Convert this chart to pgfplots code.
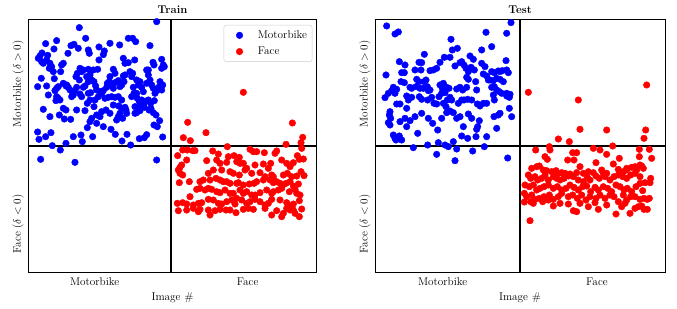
\documentclass[border=0pt]{standalone}
\usepackage{pgfplots}
\pgfplotsset{compat=1.18}
\begin{document}
\begin{tikzpicture}[font=\fontsize{11.25}{13.5}\selectfont]
\path[use as bounding box] (0,0) rectangle (677pt,308pt);
\pgfplotsset{
  panel/.style={
    scale only axis, height=253.4pt,
    ymin=-380, ymax=380,
    y filter/.expression={438-y},
    ytick=\empty,
    major tick length=0pt,
    axis line style={line width=0.9pt},
    xticklabel style={anchor=base, yshift=-12.8pt},
    title style={anchor=base, font=\fontsize{11.25}{13.5}\selectfont\bfseries},
    xlabel={Image \#},
    xlabel style={at={(0.5,0)}, anchor=base, yshift=-27.8pt},
    clip=false,
  },
  mb/.style={only marks, mark=*, mark size=3.3pt, mark options={draw=blue, fill=blue}},
  fc/.style={only marks, mark=*, mark size=3.3pt, mark options={draw=red, fill=red}},
}
% ---------------- Train ----------------
\begin{axis}[panel, at={(28.3pt,35.3pt)}, anchor=south west, width=288.4pt,
  xmin=85, xmax=950, xtick={284,743}, xticklabels={Motorbike, Face},
  title={Train},
  legend image code/.code={\path[draw=none, fill=none] (0pt,0pt) -- (29pt,0pt); \path[#1, draw=none] plot coordinates {(12.7pt,0pt)};},
  legend style={at={(1,1)}, anchor=north east, xshift=-4.4pt, yshift=-5.7pt,
    draw=black!20, rounded corners=2.5pt, font=\fontsize{11.25}{13.5}\selectfont,
    row sep=3pt, inner xsep=3pt, inner ysep=3.5pt},
  legend cell align=left]
\addplot[mb] coordinates {
(238,83) (470,65) (385,115) (398,115) (407,125) (257,115) (170,122) (137,131) (213,137) (222,133)
(330,130) (359,135) (450,137) (297,141) (235,145) (162,147) (265,150) (268,160) (313,153) (310,164)
(126,159) (120,168) (115,175) (125,185) (130,190) (140,180) (204,160) (143,166) (370,175) (375,190)
(385,188) (404,180) (485,178) (490,195) (485,205) (493,200) (459,187) (462,195) (445,210) (297,180)
(150,190) (155,200) (160,215) (148,205) (185,195) (190,190) (182,215) (240,205) (245,215) (232,220)
(228,230) (238,240) (250,210) (265,208) (280,210) (293,208) (270,225) (275,240) (340,208) (330,230)
(345,220) (370,228) (375,225) (390,215) (398,220) (395,230) (440,210) (445,225) (124,235) (163,236)
(113,260) (140,258) (170,265) (165,272) (175,260) (190,250) (198,258) (205,262) (210,270) (215,290)
(218,278) (220,285) (200,255) (260,230) (265,245) (255,258) (250,262) (282,245) (287,258) (290,270)
(300,275) (295,290) (305,280) (310,272) (320,262) (322,250) (328,245) (335,255) (340,265) (345,248)
(355,242) (360,260) (365,255) (372,245) (315,295) (325,292) (335,290) (345,292) (355,290) (365,300)
(225,272) (230,262) (240,282) (245,290) (265,280) (272,278) (145,285) (170,290) (175,295) (180,300)
(168,302) (400,262) (410,240) (415,255) (420,245) (425,262) (430,275) (440,250) (450,240) (455,255)
(460,265) (465,280) (470,272) (476,262) (488,255) (480,245) (485,270) (410,280) (412,295) (418,305)
(425,300) (432,310) (440,303) (445,300) (452,310) (463,302) (395,290) (402,280) (130,328) (150,350)
(178,345) (190,325) (198,330) (212,358) (193,357) (230,330) (255,332) (262,310) (270,300) (282,320)
(285,300) (275,355) (290,345) (300,350) (305,335) (318,330) (340,315) (330,340) (356,318) (365,325)
(375,322) (380,340) (378,330) (360,340) (355,350) (350,360) (368,355) (405,320) (418,320) (425,315)
(433,322) (447,330) (453,326) (460,338) (468,345) (405,340) (410,338) (420,332) (113,396) (117,418)
(137,410) (153,398) (157,437) (181,450) (220,410) (243,405) (247,425) (262,383) (278,410) (290,370)
(310,380) (333,388) (346,403) (366,423) (381,403) (392,435) (418,416) (433,413) (440,404) (462,375)
(472,380) (479,362) (488,411) (270,365) (198,430) (122,478) (225,487) (470,480)
};
\addlegendentry{Motorbike}
\addplot[fc] coordinates {
(730,277) (877,369) (563,367) (618,398) (550,413) (571,422) (908,412) (903,428) (858,433) (682,440)
(533,467) (548,450) (562,450) (578,452) (585,452) (638,453) (655,462) (685,470) (702,467) (718,472)
(750,448) (760,455) (770,455) (793,458) (825,460) (830,453) (892,467) (910,477) (905,445)
(545,495) (540,502) (535,510) (560,480) (620,482) (650,480) (660,490) (680,487) (710,485) (720,490)
(730,490) (740,505) (765,495) (790,492) (805,505) (812,490) (845,480) (860,490) (870,500) (880,488) (898,478)
(540,520) (548,525) (625,520) (640,510) (665,510) (690,515) (700,520) (718,525) (735,510) (755,520)
(780,518) (795,530) (815,525) (820,530) (850,525) (862,520) (875,530) (890,528) (903,515) (912,527)
(538,548) (568,545) (600,545) (610,540) (630,540) (648,535) (660,540) (670,545) (680,545) (690,550)
(710,550) (715,548) (730,555) (748,552) (762,550) (770,545) (790,540) (810,540) (820,548) (830,545)
(840,550) (848,555) (858,550) (870,545) (880,558) (895,552)
(590,568) (600,565) (615,570) (625,565) (635,568) (650,575) (660,578) (675,570) (690,580) (700,580)
(720,570) (730,580) (740,575) (755,585) (765,585) (780,578) (800,570) (815,580) (820,575) (835,570)
(845,565) (868,575) (885,568) (890,580) (900,585)
(532,610) (548,608) (560,612) (570,590) (580,615) (595,610) (605,608) (625,598) (640,600) (655,610)
(665,612) (680,605) (695,600) (705,612) (710,595) (725,600) (740,610) (750,605) (765,598) (780,605)
(795,615) (805,610) (815,598) (840,600) (860,608) (870,618) (880,612) (898,602)
(535,632) (560,630) (580,625) (595,635) (600,628) (625,630) (630,645) (645,632) (660,628) (678,630)
(690,630) (708,638) (730,628) (745,625) (760,628) (795,625) (815,645) (830,632) (845,650) (850,640)
(860,625) (880,630) (885,640) (898,650) (905,627) (870,630)
};
\addlegendentry{Face}
\draw[line width=1.2pt] (rel axis cs:0,0.5) -- (rel axis cs:1,0.5);
\draw[line width=1.2pt] (axis cs:513,-380) -- (axis cs:513,380);
\end{axis}
% ---------------- Test ----------------
\begin{axis}[panel, at={(375pt,35.3pt)}, anchor=south west, width=290pt,
  xmin=105, xmax=975, xtick={308,771}, xticklabels={Motorbike, Face},
  title={Test}]
\addplot[mb] coordinates {
(140,78) (165,102) (175,96) (513,68) (438,97) (500,100) (333,118)
(455,140) (425,150) (337,150) (352,145) (498,182) (253,163) (390,168) (400,178)
(178,185) (195,195) (237,187) (245,188) (300,187) (313,172) (330,172) (345,198) (360,188) (365,185)
(372,195) (378,205) (385,215) (393,202) (403,210) (380,232) (385,238)
(425,190) (435,200) (455,215) (463,218) (475,213) (480,215) (487,212) (500,210) (505,218)
(138,225) (185,218) (193,218) (225,210) (243,210) (270,212) (280,210) (290,205)
(430,222) (440,228) (450,240) (460,242) (470,235) (480,238) (490,245)
(183,245) (193,248) (160,262) (155,272) (145,280) (135,293) (165,280) (170,268)
(210,262) (215,265) (230,238) (237,245) (228,260) (240,265) (250,265) (252,245) (258,240) (262,260)
(265,272) (270,270) (300,255) (310,250) (307,265) (320,262) (327,265) (315,278) (305,280) (297,290)
(350,267) (360,262) (368,270) (380,262) (407,245) (410,270) (445,240) (455,262) (463,260) (470,270)
(478,275) (485,280) (500,280) (510,283) (508,292) (500,288)
(200,288) (205,300) (215,292) (238,290) (245,298) (263,300) (275,292) (282,310) (290,312) (310,310)
(318,320) (322,300) (330,292) (335,300) (355,310) (365,300) (372,300) (383,298) (395,300) (412,312)
(420,318) (430,310) (440,310) (460,285) (463,300)
(150,335) (148,345) (152,355) (150,375) (145,368) (170,312) (180,312) (200,325)
(180,365) (195,355) (210,362) (225,350) (245,340) (265,355) (278,370) (293,390) (305,355) (320,338)
(330,333) (340,338) (350,355) (360,350) (370,380) (385,342) (395,355) (410,388) (413,380) (418,362)
(440,410) (462,350) (475,345) (480,340) (470,385) (508,325) (515,350)
(165,415) (172,412) (178,408) (160,405) (168,420) (185,420) (200,380) (233,400) (365,408) (383,415) (408,410)
(220,443) (263,435) (295,428) (290,463) (315,435) (325,440) (340,425) (345,482) (350,447) (398,453)
(433,440) (503,474)
};
\addplot[fc] coordinates {
(565,277) (715,300) (920,255) (720,388) (800,390) (917,390) (912,415) (655,417) (688,425)
(628,440) (630,450) (587,450) (818,438) (760,445) (780,450) (800,463) (898,448) (928,448) (698,458)
(710,458) (615,470) (622,478) (683,480) (702,480) (768,488) (838,475) (898,470) (935,475) (720,500)
(820,492) (860,505) (905,498)
(575,505) (590,500) (598,498) (610,510) (620,512) (635,515) (648,512) (655,520) (665,518) (675,520)
(690,522) (710,518) (730,520) (745,515) (760,518) (785,510) (790,520) (800,520) (835,508) (850,515)
(860,510) (875,502) (885,500) (890,510) (900,495) (910,505)
(565,525) (572,535) (585,530) (593,540) (605,535) (615,525) (625,540) (640,530) (650,535) (660,540)
(672,535) (685,528) (700,530) (715,540) (730,545) (742,532) (750,540) (768,528) (778,535) (795,530)
(810,540) (822,530) (835,525) (848,530) (860,535) (872,525) (885,520) (900,530) (915,548) (932,535) (930,548)
(555,555) (568,560) (580,555) (590,570) (600,565) (612,560) (625,555) (640,565) (652,560) (665,570)
(678,565) (690,555) (702,562) (715,570) (728,560) (740,558) (752,575) (765,562) (775,570) (790,560)
(803,565) (815,575) (828,555) (840,560) (852,570) (862,565) (875,575) (888,560) (900,550) (908,572)
(553,580) (560,590) (575,585) (585,598) (598,595) (612,590) (628,585) (640,598) (655,590) (665,580)
(685,590) (698,585) (712,595) (725,585) (738,600) (750,590) (768,595) (780,585) (795,595) (810,585)
(822,590) (835,605) (850,585) (860,600) (872,590) (885,590) (900,598) (912,595) (922,598) (928,595)
(553,606) (572,605) (608,605) (625,600) (640,618) (660,610) (685,612) (700,632) (710,635) (720,610)
(745,620) (765,608) (775,628) (800,615) (828,642) (845,620) (855,610) (870,640) (885,625) (895,620)
(905,618) (912,628) (922,628) (580,610) (570,662)
};
\draw[line width=1.2pt] (rel axis cs:0,0.5) -- (rel axis cs:1,0.5);
\draw[line width=1.2pt] (axis cs:540,-380) -- (axis cs:540,380);
\end{axis}
% y descriptions
\node[rotate=90, anchor=base] at (21pt,224.3pt) {Motorbike ($\delta > 0$)};
\node[rotate=90, anchor=base] at (21pt,84pt) {Face ($\delta < 0$)};
\node[rotate=90, anchor=base] at (367.7pt,224.3pt) {Motorbike ($\delta > 0$)};
\node[rotate=90, anchor=base] at (367.7pt,84pt) {Face ($\delta < 0$)};
\end{tikzpicture}
\end{document}
